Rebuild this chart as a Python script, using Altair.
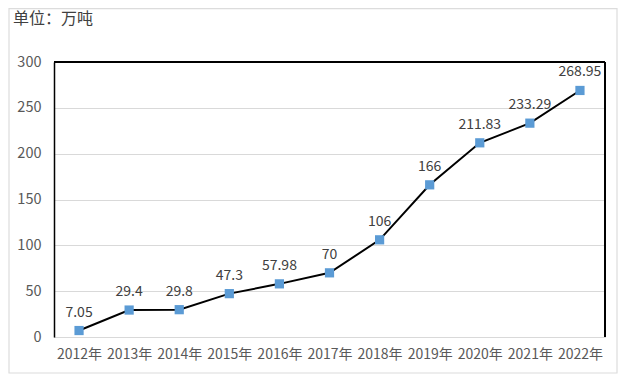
import altair as alt
import pandas as pd

years = ["2012年", "2013年", "2014年", "2015年", "2016年", "2017年",
         "2018年", "2019年", "2020年", "2021年", "2022年"]
values = [7.05, 29.4, 29.8, 47.3, 57.98, 70, 106, 166, 211.83, 233.29, 268.95]
labels = ["7.05", "29.4", "29.8", "47.3", "57.98", "70", "106", "166",
          "211.83", "233.29", "268.95"]
y_ticks = [0, 50, 100, 150, 200, 250, 300]
unit_title = "单位：万吨"

df = pd.DataFrame({"year": years, "value": values, "label": labels})

FONT = "Noto Sans CJK SC"
W, H = 551, 275

x = alt.X("year:N", sort=years, title=None,
          scale=alt.Scale(paddingInner=0, paddingOuter=0.5),
          axis=alt.Axis(labelAngle=0, labelFont=FONT, labelFontSize=14,
                        labelColor="#595959", ticks=False, domain=False,
                        labelPadding=10))
y = alt.Y("value:Q", title=None,
          scale=alt.Scale(domain=[0, 300], nice=False),
          axis=alt.Axis(values=y_ticks, labelFont=FONT, labelFontSize=14.5,
                        labelColor="#595959", ticks=False, domain=True,
                        domainColor="#000000", domainWidth=1.5,
                        gridColor="#d9d9d9", gridWidth=1, labelPadding=13))

base = alt.Chart(df)

line = base.mark_line(color="#000000", strokeWidth=2).encode(x=x, y=y)
pts = base.mark_point(shape="square", filled=True, size=85, opacity=1,
                      color="#5b9bd5").encode(x=x, y=y)
txt = base.mark_text(font=FONT, fontSize=14, color="#404040",
                     baseline="bottom", dy=-11).encode(x=x, y=y, text="label:N")

top_rule = alt.Chart(df).mark_rule(color="#000000", strokeWidth=1.5).encode(
    x=alt.value(0), x2=alt.value(W), y=alt.value(0))
right_rule = alt.Chart(df).mark_rule(color="#000000", strokeWidth=1.5).encode(
    x=alt.value(W), y=alt.value(0), y2=alt.value(H))

frame = alt.Chart(pd.DataFrame({"t": [unit_title]})).mark_rect(
    fill=None, stroke="#dcdcdc", strokeWidth=1.2
).encode(x=alt.value(-45), x2=alt.value(563), y=alt.value(-53.4), y2=alt.value(311))

unit = alt.Chart(pd.DataFrame({"t": [unit_title]})).mark_text(
    font=FONT, fontSize=16, color="#404040", align="left", baseline="top"
).encode(x=alt.value(-41), y=alt.value(-51), text="t:N")

chart = alt.layer(frame, line, pts, txt, top_rule, right_rule, unit).properties(
    width=W, height=H,
    padding={"left": 46, "top": 54, "right": 14, "bottom": 38},
    autosize=alt.AutoSizeParams(type="none"),
).configure_view(stroke=None).configure(background="white")

chart.save("out.html", embed_options={"renderer": "svg", "actions": False})
